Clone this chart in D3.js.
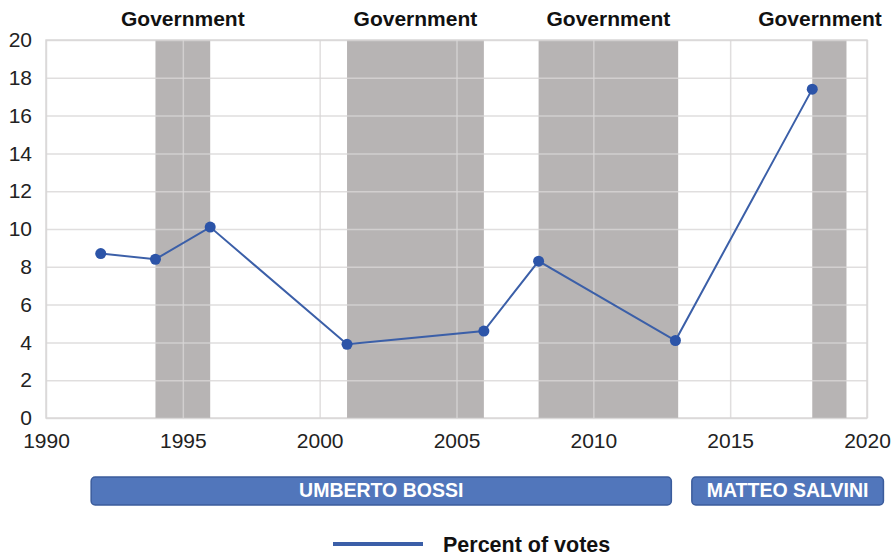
<!DOCTYPE html>
<html><head><meta charset="utf-8">
<script src="https://cdn.jsdelivr.net/npm/d3@7"></script>
<style>body{margin:0;background:#fff;} text{font-family:"Liberation Sans",Arial,sans-serif;}</style>
</head><body><svg id="c" width="894" height="556"></svg>
<script>
const years = [1992, 1994, 1996, 2001, 2006, 2008, 2013, 2018];
const votes = [8.7, 8.4, 10.1, 3.9, 4.6, 8.3, 4.1, 17.4];
const govStart = [1994, 2001, 2008, 2018];
const govEnd = [1996, 2006, 2013.1, 2019.25];
const govLabel = ["Government", "Government", "Government", "Government"];
const leaders = ["UMBERTO BOSSI", "MATTEO SALVINI"];
const leaderStart = [1991.65, 2013.6];
const leaderEnd = [2012.85, 2020.6];
const xTicks = [1990, 1995, 2000, 2005, 2010, 2015, 2020];
const yTicks = [0, 2, 4, 6, 8, 10, 12, 14, 16, 18, 20];
const legendLabel = "Percent of votes";

const svg = d3.select("#c");
const x = d3.scaleLinear().domain([1990, 2020]).range([46, 867]);
const y = d3.scaleLinear().domain([0, 20]).range([418, 40]);

svg.append("rect").attr("x", x(1990)).attr("y", y(20)).attr("width", x(2020)-x(1990)).attr("height", y(0)-y(20))
  .attr("fill", "#fff").attr("stroke", "#dcdada").attr("stroke-width", 1.5);

svg.selectAll(".band").data(govStart).enter().append("rect")
  .attr("x", d => x(d)).attr("y", y(20))
  .attr("width", (d,i) => x(govEnd[i]) - x(d)).attr("height", y(0)-y(20))
  .attr("fill", "#b7b4b4");

const gx = d3.axisBottom(x).tickValues(xTicks).tickSize(-(y(0)-y(20))).tickFormat("");
svg.append("g").attr("transform", `translate(0,${y(0)})`).call(gx)
  .call(g => g.select(".domain").remove())
  .call(g => g.selectAll("line").attr("stroke", "#d8d6d6").attr("stroke-width", 1.5).attr("stroke-opacity", 0.8));
const gy = d3.axisLeft(y).tickValues(yTicks).tickSize(-(x(2020)-x(1990))).tickFormat("");
svg.append("g").attr("transform", `translate(${x(1990)},0)`).call(gy)
  .call(g => g.select(".domain").remove())
  .call(g => g.selectAll("line").attr("stroke", "#d8d6d6").attr("stroke-width", 1.5).attr("stroke-opacity", 0.8));

const ax = d3.axisBottom(x).tickValues(xTicks).tickSize(0).tickPadding(0).tickFormat(d3.format("d"));
svg.append("g").attr("transform", `translate(0,448)`).call(ax)
  .call(g => g.select(".domain").remove())
  .call(g => g.selectAll("text").attr("font-size", 21).attr("fill", "#222").attr("dy", 0).attr("y", 0));
const ay = d3.axisLeft(y).tickValues(yTicks).tickSize(0).tickPadding(0);
svg.append("g").attr("transform", `translate(32,0)`).call(ay)
  .call(g => g.select(".domain").remove())
  .call(g => g.selectAll("text").attr("font-size", 21).attr("fill", "#222"));

const line = d3.line().x((d,i) => x(years[i])).y(d => y(d));
svg.append("path").datum(votes).attr("d", line).attr("fill", "none")
  .attr("stroke", "#3b5fa8").attr("stroke-width", 2);
svg.selectAll(".pt").data(votes).enter().append("circle")
  .attr("cx", (d,i) => x(years[i])).attr("cy", d => y(d)).attr("r", 5.5).attr("fill", "#2c54a8");

svg.selectAll(".gl").data(govLabel).enter().append("text")
  .attr("x", (d,i) => Math.min((x(govStart[i]) + x(govEnd[i]))/2, 820))
  .attr("y", 26).attr("text-anchor", "middle").attr("font-size", 21).attr("font-weight", "bold")
  .attr("fill", "#111").text(d => d);

svg.selectAll(".lb").data(leaders).enter().append("rect")
  .attr("x", (d,i) => x(leaderStart[i])).attr("y", 477)
  .attr("width", (d,i) => x(leaderEnd[i]) - x(leaderStart[i])).attr("height", 28)
  .attr("rx", 4).attr("fill", "#5176bb").attr("stroke", "#3b5c9c").attr("stroke-width", 1.5);
svg.selectAll(".lt").data(leaders).enter().append("text")
  .attr("x", (d,i) => (x(leaderStart[i]) + x(leaderEnd[i]))/2).attr("y", 497)
  .attr("text-anchor", "middle").attr("font-size", 19.5).attr("font-weight", "bold").attr("fill", "#fff").text(d => d);

svg.append("line").attr("x1", 333).attr("x2", 423).attr("y1", 544).attr("y2", 544)
  .attr("stroke", "#3b5fa8").attr("stroke-width", 4);
svg.append("text").attr("x", 443).attr("y", 551.5).attr("font-size", 21.5).attr("font-weight", "bold")
  .attr("fill", "#111").text(legendLabel);
</script></body></html>
